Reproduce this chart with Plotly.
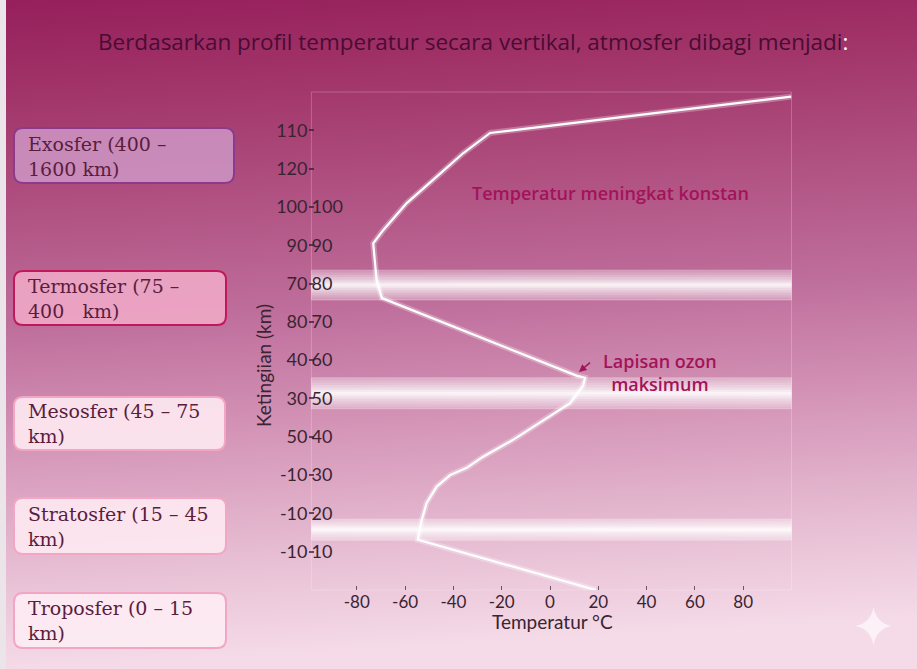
import base64
import plotly.graph_objects as go

# ---------------- data ----------------
temp_c = [19, -54.7, -53.1, -51.1, -46.9, -41.4, -34.5, -27.7, -15.3, -7, 8.3, 13.7, 14.5, 11.2,
          -69.6, -71.8, -72.5, -73.2, -69, -59.3, -46.9, -36, -24.8, 100]
alt_km = [0, 13.1, 18.3, 22.7, 27, 30, 31.9, 34.8, 39.2, 42.6, 48.8, 53.3, 55.4, 55.9,
          76.2, 80.9, 85.3, 90.5, 94, 101, 107.9, 114, 119.3, 128.8]

x_tickvals = [-100, -80, -60, -40, -20, 0, 20, 40, 60, 80, 100]
x_ticktext = ["", "-80", "-60", "-40", "-20", "0", "20", "40", "60", "80", ""]

y_tickvals = [0, 10, 20, 30, 40, 50, 60, 70, 80, 90, 100, 110, 120, 130]
y_ticktext_outer = ["", "-10", "-10", "-10", "50", "30", "40", "80", "70", "90", "100", "120", "110", ""]
y_tickvals_inner = [10, 20, 30, 40, 50, 60, 70, 80, 90, 100]
y_ticktext_inner = ["10", "20", "30", "40", "50", "60", "70", "80", "90", "100"]

# boundary layers (km): tropopause, stratopause, mesopause
band_bottom = [13.0, 47.3, 75.7]
band_top = [18.5, 55.4, 83.5]

layer_labels = ["Exosfer (400 –<br>1600 km)",
                "Termosfer (75 –<br>400\u00a0\u00a0 km)",
                "Mesosfer (45 – 75<br>km)",
                "Stratosfer (15 – 45<br>km)",
                "Troposfer (0 – 15<br>km)"]

title_text = "Berdasarkan profil temperatur secara vertikal, atmosfer dibagi menjadi"

# ---------------- layout helpers ----------------
W, H = 917, 669
def px(x):
    return x / W
def py(y):
    return 1 - y / H

INK = "#3a2432"
ACCENT = "#a3135a"

svg = ('<svg xmlns="http://www.w3.org/2000/svg" width="917" height="669" preserveAspectRatio="none">'
       '<defs><linearGradient id="g" x1="0" y1="0" x2="0.08" y2="1">'
       '<stop offset="0" stop-color="#961f5c"/>'
       '<stop offset="0.14" stop-color="#a13468"/>'
       '<stop offset="0.49" stop-color="#bf6f9c"/>'
       '<stop offset="0.67" stop-color="#d596b8"/>'
       '<stop offset="0.84" stop-color="#e6bcd2"/>'
       '<stop offset="1" stop-color="#f5dbe8"/>'
       '</linearGradient></defs>'
       '<rect width="917" height="669" fill="url(#g)"/></svg>')
bg_src = "data:image/svg+xml;base64," + base64.b64encode(svg.encode()).decode()

fig = go.Figure()

# glow under the profile line
fig.add_trace(go.Scatter(x=temp_c, y=alt_km, mode="lines",
                         line=dict(color="rgba(255,255,255,0.28)", width=6),
                         hoverinfo="skip", showlegend=False, yaxis="y"))
# profile line
fig.add_trace(go.Scatter(x=temp_c, y=alt_km, mode="lines",
                         line=dict(color="white", width=2.2),
                         showlegend=False, yaxis="y2"))

shapes = []
# plot area outline
shapes.append(dict(type="rect", xref="x domain", yref="y domain", x0=0.006, x1=1, y0=0, y1=1,
                   line=dict(color="rgba(255,255,255,0.22)", width=1), fillcolor="rgba(0,0,0,0)",
                   layer="below"))
# glowing boundary bands
for b0, b1 in zip(band_bottom, band_top):
    h = b1 - b0
    c = (b0 + b1) / 2
    shapes.append(dict(type="rect", xref="x domain", yref="y", x0=0.006, x1=1, y0=b0, y1=b1,
                       fillcolor="rgba(255,255,255,0.32)", line=dict(color="rgba(255,255,255,0.25)", width=1),
                       layer="below"))
    for frac, op in [(0.42, 0.14), (0.34, 0.16), (0.26, 0.2), (0.18, 0.25), (0.11, 0.35), (0.05, 0.45)]:
        shapes.append(dict(type="rect", xref="x domain", yref="y", x0=0.006, x1=1,
                           y0=c - h * frac, y1=c + h * frac,
                           fillcolor=f"rgba(255,255,255,{op})", line=dict(width=0), layer="below"))

# left strip of slide
shapes.append(dict(type="rect", xref="paper", yref="paper", x0=0, x1=px(6), y0=0, y1=1,
                   fillcolor="#ebe4e8", line=dict(width=0), layer="below"))

# rounded label boxes
boxes = [
    (14, 234, 128, 183, "rgba(206,150,196,0.85)", "#8e3a8c"),
    (14, 226, 271, 325, "rgba(240,168,198,0.9)", "#c2185b"),
    (14, 225, 397, 450, "rgba(253,232,241,0.92)", "#f2a6c4"),
    (14, 226, 498, 554, "rgba(253,232,241,0.92)", "#f2a6c4"),
    (14, 226, 593, 648, "rgba(253,236,243,0.92)", "#f2a6c4"),
]
r = 9
for (x0, x1, y0, y1, fill, border) in boxes:
    pts = [("M", x0 + r, y0), ("L", x1 - r, y0), ("Q", x1, y0, x1, y0 + r), ("L", x1, y1 - r),
           ("Q", x1, y1, x1 - r, y1), ("L", x0 + r, y1), ("Q", x0, y1, x0, y1 - r),
           ("L", x0, y0 + r), ("Q", x0, y0, x0 + r, y0)]
    path = ""
    for p in pts:
        if p[0] == "Q":
            path += f"Q{px(p[1]):.5f},{py(p[2]):.5f} {px(p[3]):.5f},{py(p[4]):.5f} "
        else:
            path += f"{p[0]}{px(p[1]):.5f},{py(p[2]):.5f} "
    path += "Z"
    shapes.append(dict(type="path", xref="paper", yref="paper", path=path,
                       fillcolor=fill, line=dict(color=border, width=2), layer="above"))

# sparkle
cx, cy, sw, sh, k = 873.5, 626, 18, 19, 3
star = (f"M{px(cx):.5f},{py(cy - sh):.5f} "
        f"Q{px(cx + k):.5f},{py(cy - k):.5f} {px(cx + sw):.5f},{py(cy):.5f} "
        f"Q{px(cx + k):.5f},{py(cy + k):.5f} {px(cx):.5f},{py(cy + sh):.5f} "
        f"Q{px(cx - k):.5f},{py(cy + k):.5f} {px(cx - sw):.5f},{py(cy):.5f} "
        f"Q{px(cx - k):.5f},{py(cy - k):.5f} {px(cx):.5f},{py(cy - sh):.5f} Z")
shapes.append(dict(type="path", xref="paper", yref="paper", path=star,
                   fillcolor="rgba(255,255,255,0.6)", line=dict(width=0), layer="above"))

annotations = []
annotations.append(dict(xref="paper", yref="paper", x=px(473), y=py(42), xanchor="center", yanchor="middle",
                        text=title_text + "<span style='color:white'>:</span>", showarrow=False,
                        font=dict(family="Open Sans", size=22.5, color="#4a0c33")))
box_centers = [156, 298, 423.5, 526, 620.5]
for lbl, yc in zip(layer_labels, box_centers):
    annotations.append(dict(xref="paper", yref="paper", x=px(26), y=py(yc), xanchor="left", yanchor="middle",
                            text=lbl, showarrow=False, align="left",
                            font=dict(family="DejaVu Serif", size=19, color="#5a1d3e")))
annotations.append(dict(xref="paper", yref="paper", x=px(610), y=py(193), xanchor="center", yanchor="middle",
                        text="Temperatur meningkat konstan", showarrow=False,
                        font=dict(family="Open Sans", size=18, color=ACCENT, weight=600)))
annotations.append(dict(xref="paper", yref="paper", x=px(660), y=py(372.5), xanchor="center", yanchor="middle",
                        text="Lapisan ozon<br>maksimum", showarrow=False,
                        font=dict(family="Open Sans", size=18, color=ACCENT, weight=600)))
annotations.append(dict(xref="x", yref="y", x=12, y=56.9, ax=14, ay=-12, text=" ", showarrow=True,
                        arrowhead=2, arrowsize=1, arrowwidth=1.5, arrowcolor=ACCENT))
# axis titles
annotations.append(dict(xref="paper", yref="paper", x=px(552), y=py(621), xanchor="center", yanchor="middle",
                        text="Temperatur °C", showarrow=False,
                        font=dict(family="Lato", size=19, color=INK)))
annotations.append(dict(xref="paper", yref="paper", x=px(263), y=py(366), xanchor="center", yanchor="middle",
                        text="Ketingiian (km)", showarrow=False, textangle=-90,
                        font=dict(family="Lato", size=19, color=INK)))

fig.update_layout(
    width=W, height=H,
    margin=dict(l=0, r=0, t=0, b=0),
    paper_bgcolor="#c06f9b",
    plot_bgcolor="rgba(255,255,255,0.08)",
    showlegend=False,
    images=[dict(source=bg_src, xref="paper", yref="paper", x=0, y=1, sizex=1, sizey=1,
                 xanchor="left", yanchor="top", sizing="stretch", layer="below")],
    shapes=shapes,
    annotations=annotations,
    xaxis=dict(domain=[308.5 / W, 791.5 / W], range=[-100, 100], tickvals=x_tickvals, ticktext=x_ticktext,
               ticks="inside", ticklen=4, tickwidth=1, tickcolor="rgba(60,30,45,0.7)",
               showgrid=False, zeroline=False, showline=False,
               tickfont=dict(family="Lato", size=17, color=INK)),
    yaxis=dict(domain=[1 - 590 / H, 1 - 92 / H], range=[0, 130], tickvals=y_tickvals,
               ticktext=y_ticktext_outer, ticks="inside", ticklen=5, tickwidth=1.5,
               tickcolor="rgba(60,30,45,0.75)", showgrid=False, zeroline=False, showline=False,
               tickfont=dict(family="Lato", size=18, color=INK)),
    yaxis2=dict(overlaying="y", side="left", anchor="x", range=[0, 130], tickvals=y_tickvals_inner,
                ticktext=y_ticktext_inner, ticklabelposition="inside", ticks="",
                showgrid=False, zeroline=False, showline=False,
                tickfont=dict(family="Lato", size=18, color=INK)),
)

fig.write_html("out.html", config={"displayModeBar": False},
               post_script="document.body.style.margin='0';document.body.style.padding='0';"
                           "document.documentElement.style.overflow='hidden';")
